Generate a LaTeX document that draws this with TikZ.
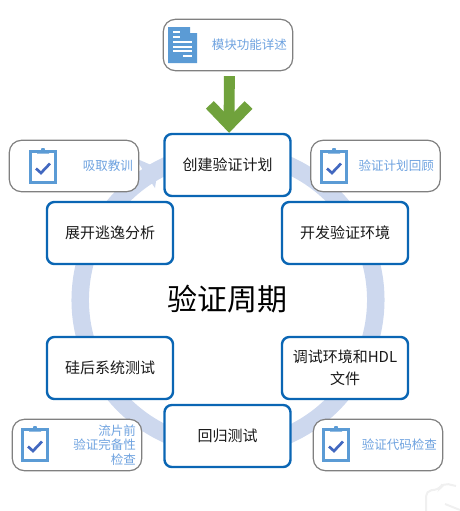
\documentclass[tikz,border=0pt]{standalone}
\usepackage{fontspec}
\newfontfamily\cjk{Noto Sans CJK SC}
\usepackage{xcolor}
\usetikzlibrary{arrows.meta, positioning}

\definecolor{ringblue}{HTML}{CDD8EE}
\definecolor{boxblue}{HTML}{0A66B4}
\definecolor{iconblue}{HTML}{5B9BD5}
\definecolor{tickblue}{HTML}{4268C0}
\definecolor{noteblue}{HTML}{6FA3E0}
\definecolor{arrowgreen}{HTML}{70A23C}

\begin{document}
\begin{tikzpicture}[
    x=0.75pt, y=0.75pt,
    % Cycle stage boxes (blue)
    stage/.style={
        rectangle, rounded corners=5.5pt, draw=boxblue, line width=1.8pt, fill=white,
        minimum width=94.5pt, minimum height=46.5pt, align=center, inner sep=0pt,
        font=\cjk\fontsize{11.25}{16.5}\selectfont, text=black!90
    },
    % Side note boxes (grey)
    note/.style={
        rectangle, rounded corners=9pt, draw=black!50, line width=0.9pt, fill=white,
        minimum width=97pt, minimum height=38.5pt, inner sep=0pt
    },
    % Side note text
    notetext/.style={
        font=\cjk\fontsize{9.4}{10.9}\selectfont, text=noteblue, align=right, inner sep=0pt
    },
    % Input arrow
    inarr/.style={
        draw=arrowgreen, line width=8.2pt,
        -{Straight Barb[length=15pt, width=29pt, line width=8.2pt]}
    },
    % Clipboard icon
    clipboard/.pic={
        \draw[iconblue, line width=2pt] (-12.5,15.5) rectangle (12.5,-15.5);
        \fill[iconblue] (-6,17) -- (-2,17) -- (-1.5,19) -- (1.5,19) -- (2,17) -- (6,17)
            -- (6,13.5) -- (-6,13.5) -- cycle;
        \draw[tickblue, line width=2pt] (-7,-1.5) -- (-2,-6) -- (7,3.5);
    },
]

% Pixel grid of the frame
\useasboundingbox (0,0) rectangle (460,-511);

% Cycle centre
\def\ringx{228}
\def\ringy{-300}

% Cycle ring with its head
\fill[ringblue] (\ringx,\ringy) ++(123:156.5) arc[start angle=123, end angle=-285, radius=156.5]
    -- ++(-285:-17.5) arc[start angle=-285, end angle=123, radius=139] -- cycle;
\fill[ringblue] (135,-158) -- (158,-168) -- (155,-188) -- cycle;

% Title
\node[font=\cjk\fontsize{22.5}{26}\selectfont, inner sep=0pt] (title) at (227.5,-299) {验证周期};

% Cycle stages
\node[stage] (create) at (227.5,-165) {创建验证计划};
\node[stage] (env) at (345,-233) {开发验证环境};
\node[stage] (debug) at (345,-368) {调试环境和HDL\\文件};
\node[stage] (regress) at (227.5,-436) {回归测试};
\node[stage] (silicon) at (110,-368) {硅后系统测试};
\node[stage] (escape) at (110,-233) {展开逃逸分析};

% Side notes
\node[note] (module) at (228,-45) {};
\node[note] (lesson) at (74,-166) {};
\node[note] (review) at (375.5,-166) {};
\node[note] (tapeout) at (77,-445) {};
\node[note] (codecheck) at (378,-445) {};

\node[notetext, left=4.5pt of module.east] (moduletext) {模块功能详述};
\node[notetext, left=4.5pt of lesson.east] (lessontext) {吸取教训};
\node[notetext, left=5pt of review.east] (reviewtext) {验证计划回顾};
\node[notetext, left=4.5pt of tapeout.east] (tapeouttext) {流片前\\验证完备性\\检查};
\node[notetext, left=4.5pt of codecheck.east] (codechecktext) {验证代码检查};

% Icons
\pic at (43,-167) {clipboard};
\pic at (334,-167) {clipboard};
\pic at (35,-445) {clipboard};
\pic at (336,-445) {clipboard};

% Document icon
\fill[iconblue] (168,-27) -- (190,-27) -- (190,-33) -- (197,-33) -- (197,-63) -- (168,-63) -- cycle;
\foreach \liney/\linea/\lineb in {32/173/180, 37/173/180, 42/173/192, 47/173/192, 51/173/192, 56/183/192}
    \draw[white, line width=0.8pt] (\linea,-\liney) -- (\lineb,-\liney);

% Input arrow
\draw[inarr] ([xshift=1pt, yshift=-3.7pt]module.south) -- ([xshift=1.2pt]create.north);

% Faint corner mark
\draw[black!6, line width=1.5pt, rounded corners=4pt] (426,-511) -- (426,-491) -- (440,-489) -- (443,-483) -- (456,-486);
\draw[black!6, line width=1.5pt] (445,-504) -- (460,-510);

\end{tikzpicture}
\end{document}
